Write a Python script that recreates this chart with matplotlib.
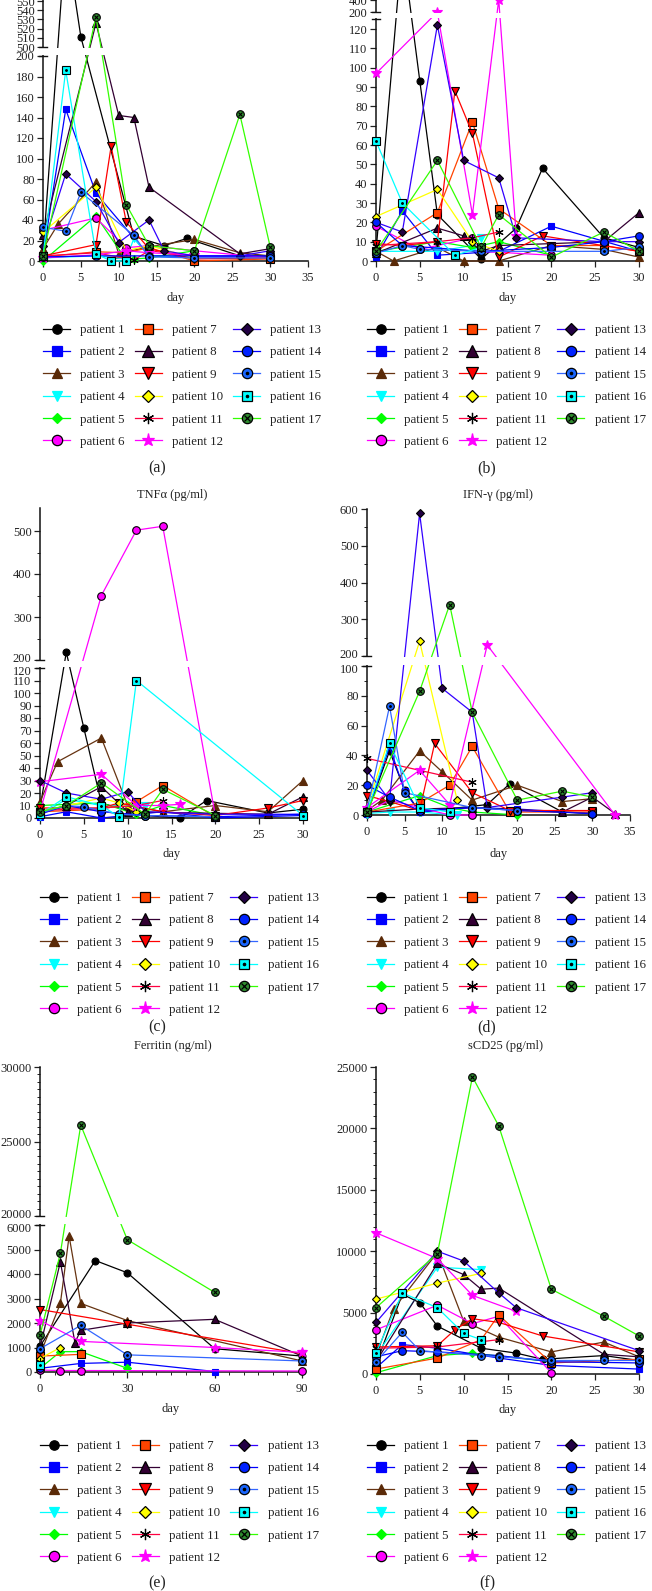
import numpy as np
import matplotlib
matplotlib.use("Agg")
import matplotlib.pyplot as plt
from matplotlib.lines import Line2D
from matplotlib.patches import Rectangle
import matplotlib.transforms as mtrans

plt.rcParams['font.family'] = ['Liberation Serif', 'DejaVu Serif']

# ---------------- data: (days, values) per patient ----------------
# panel (a)
A1 = ([0, 3, 5, 12, 16, 19, 26, 30], [8, 620, 511, 24, 15, 22, 5, 5])
A2 = ([0, 3, 7, 14, 20, 30], [5, 148, 66, 5, 4, 4])
A3 = ([0, 2, 7, 10, 14, 20, 26, 30], [12, 36, 77, 7, 14, 21, 8, 5])
A4 = ([0, 7, 11, 12, 14, 20], [3, 5, 2, 22, 5, 3])
A5 = ([0, 7, 11, 12, 14, 20], [0, 44, 1, 2, 3, 10])
A6 = ([0, 7, 11, 14, 20, 30], [30, 42, 13, 15, 10, 3])
A7 = ([0, 7, 11, 14, 20, 30], [4, 9, 8, 13, 0, 2])
A8 = ([0, 7, 10, 12, 14, 26, 30], [25, 526, 142, 140, 72, 7, 12])
A9 = ([0, 7, 9, 11, 14, 20, 30], [5, 16, 112, 38, 12, 2, 3])
A10 = ([0, 7, 11, 14, 20], [28, 72, 10, 15, 3])
A11 = ([0, 7, 12, 14, 20], [5, 8, 1, 10, 5])
A12 = ([0, 7, 11, 14, 20], [3, 6, 10, 8, 6])
A13 = ([0, 3, 7, 10, 14, 16, 20, 26, 30], [15, 85, 58, 18, 40, 10, 5, 5, 10])
A14 = ([0, 7, 14, 20, 30], [4, 5, 5, 5, 5])
A15 = ([0, 3, 5, 12, 14, 20, 30], [33, 29, 67, 25, 4, 3, 3])
A16 = ([0, 3, 7, 9, 11], [5, 186, 7, 0, 0])
A17 = ([0, 7, 11, 14, 20, 26, 30], [5, 533, 55, 15, 10, 143, 14])

# panel (b)
B1 = ([0, 3, 5, 7, 12, 16, 19, 26, 30], [5, 1300, 93, 24, 1, 17, 48, 12, 7])
B2 = ([0, 3, 7, 14, 20, 30], [2, 26, 3, 5, 18, 5])
B3 = ([0, 2, 7, 10, 14, 20, 26, 30], [5, 0, 7, 0, 0, 8, 6, 2])
B4 = ([0, 7, 11, 12], [5, 5, 8, 12])
B5 = ([0, 7, 11, 14, 20], [5, 10, 7, 10, 3])
B6 = ([0, 5, 11, 12, 20], [18, 6, 12, 5, 3])
B7 = ([0, 7, 11, 14, 20, 26, 30], [5, 25, 72, 27, 8, 8, 5])
B8 = ([0, 7, 10, 12, 14, 26, 30], [4, 17, 13, 5, 8, 10, 25])
B9 = ([0, 3, 7, 9, 11, 14, 19, 30], [9, 8, 10, 88, 66, 2, 13, 5])
B10 = ([0, 7, 11, 14], [23, 37, 10, 5])
B11 = ([0, 7, 11, 14], [8, 10, 12, 15])
B12 = ([0, 7, 11, 14, 16], [97, 200, 24, 405, 13])
B13 = ([0, 3, 7, 10, 14, 16, 26, 30], [20, 15, 122, 52, 43, 12, 10, 10])
B14 = ([0, 3, 12, 20, 26, 30], [20, 8, 5, 7, 10, 13])
B15 = ([0, 3, 5, 12, 26, 30], [4, 8, 6, 5, 5, 7])
B16 = ([0, 3, 9, 12], [62, 30, 3, 7])
B17 = ([0, 7, 12, 14, 20, 26, 30], [5, 52, 7, 24, 2, 15, 5])

# panel (c) TNFa
C1 = ([0, 3, 5, 7, 12, 16, 19, 26, 30], [8, 218, 72, 12, 2, 0, 14, 4, 7])
C2 = ([0, 3, 7, 14, 20, 30], [1, 5, 0, 5, 0, 2])
C3 = ([0, 2, 7, 10, 14, 20, 26, 30], [13, 45, 64, 10, 5, 10, 5, 30])
C4 = ([0, 3, 7, 12], [2, 15, 10, 10])
C5 = ([0, 7, 11, 14, 20], [10, 12, 3, 10, 2])
C6 = ([0, 7, 11, 14, 20], [5, 350, 502, 511, 2])
C7 = ([0, 7, 11, 14, 20], [5, 7, 13, 26, 1])
C8 = ([0, 3, 7, 10, 26, 30], [4, 10, 25, 5, 3, 17])
C9 = ([0, 7, 9, 14, 20, 26, 30], [8, 8, 12, 5, 2, 8, 14])
C10 = ([0, 7, 9, 11], [5, 16, 12, 5])
C11 = ([0, 7, 11, 14], [6, 8, 10, 14])
C12 = ([0, 7, 11, 14, 16], [29, 35, 10, 10, 11])
C13 = ([0, 3, 7, 10, 12, 20, 30], [30, 20, 15, 21, 5, 3, 3])
C14 = ([0, 3, 7, 12, 20, 30], [3, 10, 5, 2, 1, 3])
C15 = ([0, 3, 5, 9, 12, 20], [4, 10, 9, 3, 2, 1])
C16 = ([0, 3, 7, 9, 11, 30], [3, 17, 10, 1, 110, 2])
C17 = ([0, 3, 7, 12, 14, 20], [5, 10, 28, 3, 23, 2])

# panel (d) IFN-gamma
D1 = ([0, 3, 5, 7, 16, 19, 26, 30], [1, 43, 17, 2, 7, 21, 2, 1])
D2 = ([0, 3, 5, 7, 14, 20, 30], [1, 46, 16, 2, 5, 4, 1])
D3 = ([0, 2, 7, 10, 14, 20, 26, 30], [3, 10, 43, 29, 10, 20, 9, 11])
D4 = ([0, 3, 7, 12], [1, 2, 2, 0])
D5 = ([0, 7, 11, 14, 20], [2, 13, 5, 2, 0])
D6 = ([0, 3, 7, 11, 14], [2, 10, 5, 0, 0])
D7 = ([0, 7, 11, 14, 19, 30], [2, 8, 20, 46, 2, 2])
D8 = ([0, 7, 14, 26, 30, 33], [2, 4, 5, 2, 12, 1])
D9 = ([0, 3, 7, 9, 14, 19, 30], [13, 9, 3, 48, 15, 3, 3])
D10 = ([0, 7, 12], [5, 240, 10])
D11 = ([0, 7, 14], [38, 30, 22])
D12 = ([0, 7, 11, 16, 33], [5, 30, 7, 230, 0])
D13 = ([0, 3, 7, 10, 14, 16, 26, 30], [30, 10, 588, 85, 69, 5, 12, 15])
D14 = ([0, 3, 7, 14, 20, 30], [20, 12, 3, 5, 3, 1])
D15 = ([0, 3, 5, 14, 20], [3, 73, 15, 5, 3])
D16 = ([0, 3, 7, 11], [2, 48, 5, 2])
D17 = ([0, 7, 11, 14, 20, 26, 30], [2, 83, 340, 69, 10, 16, 12])

# panel (e) Ferritin
E1 = ([0, 19, 30, 60, 90], [1050, 4550, 4050, 950, 650])
E2 = ([0, 14, 30, 60], [150, 350, 400, 20])
E3 = ([0, 7, 10, 14, 30, 90], [700, 2800, 5550, 2800, 2100, 450])
E4 = ([0], [250])
E5 = ([0, 7, 14, 30], [150, 830, 830, 150])
E6 = ([0, 7, 14, 90], [80, 60, 60, 40])
E7 = ([0, 14], [650, 720])
E8 = ([0, 7, 12, 14, 30, 60, 90], [1000, 4500, 1200, 1700, 2000, 2150, 650])
E9 = ([0, 30, 90], [2550, 1950, 750])
E10 = ([0, 7], [550, 1000])
E11 = ([0], [400])
E12 = ([0, 14, 60, 90], [2100, 1250, 1000, 800])
E13 = ([0], [900])
E14 = ([0], [150])
E15 = ([0, 14, 30, 90], [950, 1900, 700, 450])
E16 = ([0], [300])
E17 = ([0, 7, 14, 30, 60], [1500, 4850, 26100, 5400, 3250])

# panel (f) sCD25
F1 = ([0, 3, 5, 7, 12, 16, 19, 26, 30], [800, 6500, 5800, 3900, 2100, 1700, 1200, 1500, 1100])
F2 = ([0, 3, 7, 14, 20, 30], [500, 2400, 2100, 1300, 700, 400])
F3 = ([0, 2, 7, 10, 14, 20, 26, 30], [1500, 5300, 9900, 4300, 3000, 1800, 2600, 1400])
F4 = ([0, 7, 12], [1500, 8700, 8500])
F5 = ([0, 7, 11, 20], [100, 1500, 1700, 1000])
F6 = ([0, 7, 11, 14, 20], [3600, 5600, 4100, 4700, 100])
F7 = ([0, 7, 12, 14, 20, 30], [400, 1300, 2800, 4800, 900, 1200])
F8 = ([0, 7, 10, 12, 14, 26, 30], [1000, 9000, 8100, 6900, 7000, 1600, 1400])
F9 = ([0, 7, 9, 11, 14, 19, 30], [2200, 2300, 3600, 4500, 4200, 3100, 1800])
F10 = ([0, 7, 12], [6100, 7400, 8200])
F11 = ([0, 7, 14], [2100, 2200, 2800])
F12 = ([0, 7, 11, 16], [11500, 9400, 6400, 5100])
F13 = ([0, 7, 10, 14, 16, 30], [4200, 10000, 9200, 6600, 5400, 1900])
F14 = ([0, 3, 7, 14, 20, 30], [1400, 1900, 1800, 1500, 1000, 900])
F15 = ([0, 3, 5, 12, 14, 20, 26, 30], [1000, 3400, 1900, 1500, 1400, 1100, 1100, 1100])
F16 = ([0, 3, 7, 10, 12], [1700, 6600, 5400, 3300, 2800])
F17 = ([0, 7, 11, 14, 20, 26, 30], [5400, 9800, 24200, 20200, 6900, 4700, 3100])

PANEL_A = [A1, A2, A3, A4, A5, A6, A7, A8, A9, A10, A11, A12, A13, A14, A15, A16, A17]
PANEL_B = [B1, B2, B3, B4, B5, B6, B7, B8, B9, B10, B11, B12, B13, B14, B15, B16, B17]
PANEL_C = [C1, C2, C3, C4, C5, C6, C7, C8, C9, C10, C11, C12, C13, C14, C15, C16, C17]
PANEL_D = [D1, D2, D3, D4, D5, D6, D7, D8, D9, D10, D11, D12, D13, D14, D15, D16, D17]
PANEL_E = [E1, E2, E3, E4, E5, E6, E7, E8, E9, E10, E11, E12, E13, E14, E15, E16, E17]
PANEL_F = [F1, F2, F3, F4, F5, F6, F7, F8, F9, F10, F11, F12, F13, F14, F15, F16, F17]

LABELS = ["patient %d" % i for i in range(1, 18)]

# ---------------- styles ----------------
STYLES = [
    dict(color='black', marker='o', mfc='black', mec='black', ms=5),
    dict(color='#0000ff', marker='s', mfc='#0000ff', mec='#0000ff', ms=5),
    dict(color='#663311', marker='^', mfc='#5a2a08', mec='#5a2a08', ms=5.5),
    dict(color='#00ffff', marker='v', mfc='#00ffff', mec='#00ffff', ms=5.5),
    dict(color='#00ff00', marker='D', mfc='#00ff00', mec='#00ff00', ms=4),
    dict(color='#ff00ff', marker='o', mfc='#ff00ff', mec='black', ms=5.5),
    dict(color='#ff4400', marker='s', mfc='#ff4400', mec='black', ms=5.5),
    dict(color='#330033', marker='^', mfc='#330033', mec='black', ms=6),
    dict(color='#ff0000', marker='v', mfc='#ff0000', mec='black', ms=6),
    dict(color='#ffff00', marker='D', mfc='#ffff00', mec='black', ms=4.5),
    dict(color='#ff0040', marker=(6, 2, 0), mfc='black', mec='black', ms=6),
    dict(color='#ff00ff', marker='*', mfc='#ff00ff', mec='#ff00ff', ms=7),
    dict(color='#3300ff', marker='D', mfc='#220044', mec='black', ms=4.5),
    dict(color='#0000ff', marker='o', mfc='#0022ff', mec='black', ms=5.5),
    dict(color='#3366ff', marker='o', mfc='#1a66ff', mec='black', ms=5.5),
    dict(color='#00ffff', marker='s', mfc='#00ffff', mec='black', ms=5.5),
    dict(color='#33ff00', marker='o', mfc='#2e8b2e', mec='black', ms=5.5),
]
DOTS = {14: ('.', 2.5), 15: ('.', 2.5), 16: ('x', 3.2)}

W, H = 652, 1591
fig = plt.figure(figsize=(W / 100, H / 100), dpi=100)
TICKC = '#222222'


def make_scale(a, b, g, u):
    def fwd(v):
        v = np.asarray(v, float)
        return np.where(v <= a, v, np.where(v <= b, a + (v - a) * g, a + (b - a) * g + (v - b) * u))

    def inv(t):
        t = np.asarray(t, float)
        ta = a
        tb = a + (b - a) * g
        return np.where(t <= ta, t, np.where(t <= tb, a + (t - ta) / g, b + (t - tb) / u))
    return fwd, inv


def panel(data, left, right, zero, L, xmax, ymax, yticks, brk=None, yminor=(),
          xticks=None, xminor=(), nudge=None):
    if brk is not None:
        a, b, gpx, upx = brk
        g = gpx / ((b - a) * L)
        u = upx / L
        fwd, inv = make_scale(a, b, g, u)
        top_t = float(fwd(ymax))
    else:
        top_t = ymax
    h = top_t * L
    ax = fig.add_axes([left / W, 1 - zero / H, (right - left) / W, h / H])
    if brk is not None:
        ax.set_yscale('function', functions=(fwd, inv))
    ax.set_xlim(0, xmax)
    ax.set_ylim(0, ymax)
    for sp in ('top', 'right'):
        ax.spines[sp].set_visible(False)
    for sp in ('left', 'bottom'):
        ax.spines[sp].set_linewidth(1.1)
        ax.spines[sp].set_color('#111111')
    ax.set_yticks(yticks, [str(t) for t in yticks])
    if len(yminor):
        ax.set_yticks(list(yminor), minor=True)
    if xticks is None:
        xticks = list(range(0, xmax + 1, 5))
    ax.set_xticks(xticks, [str(t) for t in xticks])
    if len(xminor):
        ax.set_xticks(list(xminor), minor=True)
    ax.tick_params(axis='both', which='major', direction='out', length=4, width=0.9,
                   labelsize=9, pad=2, colors=TICKC, labelcolor=TICKC)
    ax.tick_params(axis='both', which='minor', direction='out', length=2, width=0.7,
                   colors=TICKC)
    ax.tick_params(axis='x', which='major', pad=4)

    # separate the two crowded labels at the axis break
    if nudge is not None:
        lo_val, hi_val = nudge
        for tk in ax.yaxis.get_major_ticks():
            loc = tk.get_loc()
            if loc == lo_val:
                tk.label1.set_transform(tk.label1.get_transform() +
                                        mtrans.ScaledTranslation(0, -0.022, fig.dpi_scale_trans))
            elif loc == hi_val:
                tk.label1.set_transform(tk.label1.get_transform() +
                                        mtrans.ScaledTranslation(0, 0.022, fig.dpi_scale_trans))

    for i, (days, vals) in enumerate(data):
        st = STYLES[i]
        ax.plot(days, vals, color=st['color'], lw=0.9, marker=st['marker'],
                mfc=st['mfc'], mec=st['mec'], ms=st['ms'], mew=0.8,
                clip_on=False, zorder=3 + i * 0.01)
        if i in DOTS:
            m, s = DOTS[i]
            ax.plot(days, vals, ls='none', marker=m, color='black', ms=s, mew=0.8,
                    clip_on=False, zorder=3.005 + i * 0.01)

    if brk is not None:
        a, b, gpx, upx = brk
        ta = float(fwd(a)) + 1.0 / L
        tb = float(fwd(b)) - 1.0 / L
        ya = float(inv(ta))
        yb = float(inv(tb))
        trans = mtrans.blended_transform_factory(ax.transAxes, ax.transData)
        ax.add_patch(Rectangle((-0.03, ya), 1.04, yb - ya, transform=trans,
                               facecolor='white', edgecolor='none', zorder=20,
                               clip_on=False))
        dx = 4.0 / (right - left)
        for yy in (a, b):
            ax.add_line(Line2D([-dx, dx], [yy, yy], transform=trans, color='#111111',
                               lw=1.0, clip_on=False, zorder=21))
    return ax


def ftxt(x, y, s, size=9, **kw):
    fig.text(x / W, 1 - y / H, s, ha='center', va='center', fontsize=size,
             color='#222222', **kw)


def legend_at(left, top):
    handles = []
    for i, st in enumerate(STYLES):
        h = Line2D([], [], color=st['color'], lw=0.9, marker=st['marker'],
                   mfc=st['mfc'], mec=st['mec'], ms=st['ms'] * 1.35, mew=0.9)
        if i in DOTS:
            m, s = DOTS[i]
            h2 = Line2D([], [], ls='none', marker=m, color='black', ms=s * 1.35, mew=0.9)
            handles.append((h, h2))
        else:
            handles.append(h)
    leg = fig.legend(handles, LABELS, loc='upper left',
                     bbox_to_anchor=(left / W, 1 - top / H), ncol=3, frameon=False,
                     fontsize=9.3, handlelength=2.1, handletextpad=0.8,
                     columnspacing=0.75, labelspacing=0.8, borderpad=0,
                     borderaxespad=0, numpoints=1)
    for t in leg.get_texts():
        t.set_color('#222222')
    return leg


# ---------------- panels ----------------
# (a)
panel(PANEL_A, 43, 308, 261, 1.025, 35, 552,
      list(range(0, 201, 20)) + list(range(500, 551, 10)),
      brk=(200, 500, 9, 0.92))
ftxt(175.5, 298, 'day')
legend_at(43, 324)
ftxt(157, 468, '(a)', size=11.5)

# (b)
panel(PANEL_B, 376, 639, 261, 232 / 120, 30, 400,
      list(range(0, 121, 10)) + [200, 400],
      brk=(125, 200, 7.3, 0.06))
ftxt(507.5, 298, 'day')
legend_at(367, 324)
ftxt(487, 468, '(b)', size=11.5)

# (c)
ftxt(172, 495, 'TNFα (pg/ml)')
panel(PANEL_C, 40, 303, 818, 1.25, 30, 553,
      list(range(0, 121, 10)) + [200, 300, 400, 500],
      brk=(120, 200, 8, 0.43), yminor=[250, 350, 450], nudge=(120, 200))
ftxt(171.5, 854, 'day')
legend_at(40, 892)
ftxt(157, 1027, '(c)', size=11.5)

# (d)
ftxt(498, 495, 'IFN-γ (pg/ml)')
panel(PANEL_D, 367, 630, 815, 1.49, 35, 600,
      [0, 20, 40, 60, 80, 100, 200, 300, 400, 500, 600],
      brk=(100, 200, 10, 0.3675), yminor=[10, 30, 50, 70, 90, 250, 350, 450, 550],
      nudge=(100, 200))
ftxt(498.5, 854, 'day')
legend_at(367, 892)
ftxt(487, 1027, '(d)', size=11.5)

# (e)
ftxt(173, 1046, 'Ferritin (ng/ml)')
panel(PANEL_E, 40, 302, 1372, 147 / 6000, 90, 30000,
      [0, 1000, 2000, 3000, 4000, 5000, 6000, 20000, 25000, 30000],
      brk=(6000, 20000, 9, 0.0149),
      yminor=[v for v in range(20500, 30000, 500) if v % 5000],
      xticks=[0, 30, 60, 90], xminor=[v for v in range(5, 90, 5) if v % 30],
      nudge=(6000, 20000))
ftxt(171, 1409, 'day')
legend_at(40, 1440)
ftxt(157, 1583, '(e)', size=11.5)

# (f)
ftxt(505, 1046, 'sCD25 (pg/ml)')
panel(PANEL_F, 376, 639, 1374, 307 / 25000, 30, 25000,
      [0, 5000, 10000, 15000, 20000, 25000],
      yminor=[v for v in range(1000, 25000, 1000) if v % 5000])
ftxt(507.5, 1410, 'day')
legend_at(367, 1440)
ftxt(487, 1583, '(f)', size=11.5)

fig.savefig('out.png', dpi=100)
